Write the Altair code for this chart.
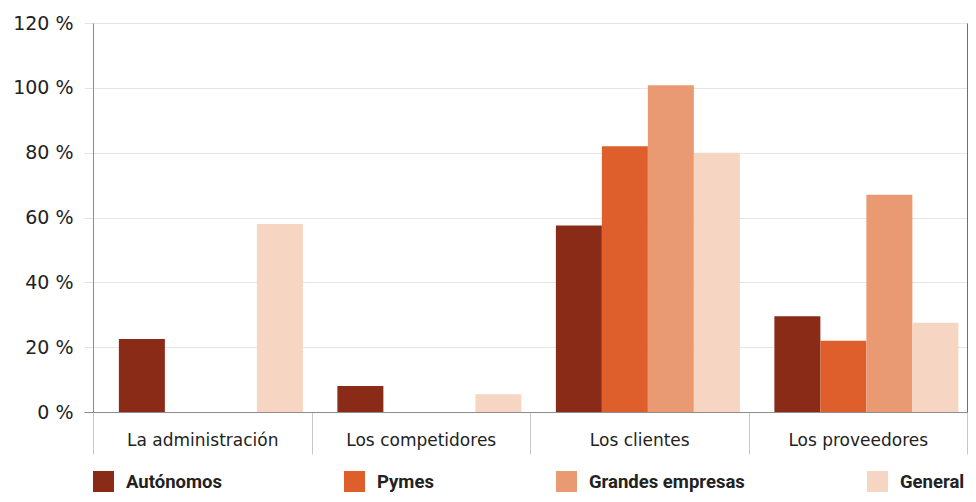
import altair as alt
import pandas as pd

categories = ["La administración", "Los competidores", "Los clientes", "Los proveedores"]
series = ["Autónomos", "Pymes", "Grandes empresas", "General"]
autonomos = [22.5, 8, 57.5, 29.5]
pymes = [None, None, 82, 22]
grandes = [None, None, 100.8, 67]
general = [58, 5.5, 80, 27.5]
colors = ["#8a2b18", "#de5e2c", "#ea9a72", "#f6d5c2"]
y_ticks = [0, 20, 40, 60, 80, 100, 120]

rows = []
for s, vals in zip(series, [autonomos, pymes, grandes, general]):
    for c, v in zip(categories, vals):
        if v is not None:
            rows.append({"categoria": c, "serie": s, "valor": v})
df = pd.DataFrame(rows)

bars = alt.Chart(df).mark_bar().encode(
    x=alt.X("categoria:N", sort=categories, title=None,
            scale=alt.Scale(paddingInner=0, paddingOuter=0),
            axis=alt.Axis(labelAngle=0, tickBand="extent", tickSize=42,
                          tickColor="#c8c8c8", domainColor="#8c8c8c",
                          labelPadding=-22, labelFont="DejaVu Sans",
                          labelFontSize=17, labelColor="#222222", grid=False)),
    xOffset=alt.XOffset("serie:N", sort=series,
                        scale=alt.Scale(paddingInner=0, paddingOuter=0.375, align=0.75)),
    y=alt.Y("valor:Q", title=None,
            scale=alt.Scale(domain=[0, 120], nice=False),
            axis=alt.Axis(values=y_ticks, labelExpr="datum.value + ' %'",
                          tickSize=9,
                          tickColor={"condition": {"test": "datum.value === 0", "value": "#8c8c8c"},
                                     "value": "#e2e2e2"},
                          gridColor="#e6e6e6", domainColor="#8c8c8c",
                          labelPadding=11, labelFont="DejaVu Sans",
                          labelFontSize=19, labelColor="#222222")),
    color=alt.Color("serie:N", sort=series,
                    scale=alt.Scale(domain=series, range=colors),
                    legend=alt.Legend(title=None, orient="none", legendX=0, legendY=448,
                                      direction="horizontal", columns=4, columnPadding=122,
                                      symbolType="square", symbolSize=441,
                                      symbolStrokeWidth=0, labelFont="Roboto",
                                      labelFontWeight="bold", labelFontSize=18.5,
                                      labelColor="#222222", labelOffset=12,
                                      labelLimit=300, padding=0)),
)

right_axis = alt.Chart(df).mark_point(opacity=0).encode(
    y=alt.Y("valor:Q", title=None,
            scale=alt.Scale(domain=[0, 120], nice=False),
            axis=alt.Axis(orient="right", labels=False, ticks=False, grid=False,
                          domainColor="#6e6e6e")),
)

chart = alt.layer(bars, right_axis).resolve_scale(y="independent").properties(
    width=874, height=389,
    autosize=alt.AutoSizeParams(type="none"),
    padding={"left": 85, "top": 15, "right": 1, "bottom": 82},
).configure_view(stroke=None).configure(background="white")

chart.save("out.html", embed_options={"renderer": "svg", "actions": False})
